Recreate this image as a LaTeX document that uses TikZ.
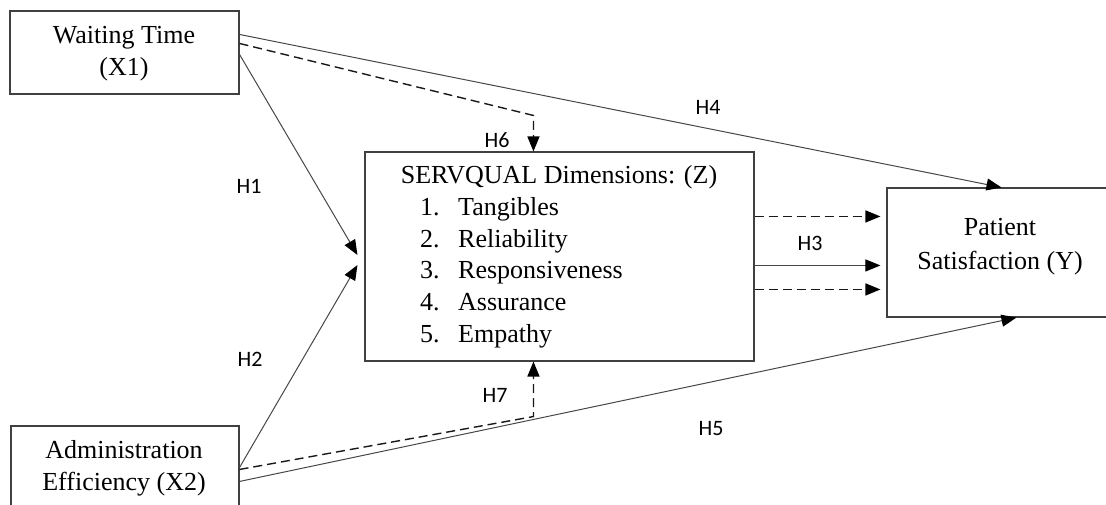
\documentclass[tikz,border=0pt]{standalone}
\usepackage{fontspec}
\setmainfont{Liberation Serif}
\newfontfamily\labfont{Carlito}
\usetikzlibrary{arrows.meta,calc}
\tikzset{
  boxnode/.style={draw=black!75, line width=1.1pt, fill=none, inner sep=0pt, rectangle},
  txt/.style={inner sep=0pt, anchor=base, text=black, font=\fontsize{26}{32}\selectfont},
  itemtxt/.style={inner sep=0pt, anchor=base west, text=black, font=\fontsize{26}{32}\selectfont},
  hlab/.style={inner sep=0pt, text=black, font=\labfont\fontsize{22}{26}\selectfont},
  link/.style={draw=black!72, line width=1pt, -{Triangle[length=15pt,width=12pt,color=black]}},
  dlink/.style={link, draw=black!90, line width=1.4pt, dash pattern=on 9pt off 5pt},
}
\begin{document}
\begin{tikzpicture}[x=1pt,y=-1pt]
\clip (0,0) rectangle (1106,504);
% boxes
\node[boxnode, minimum width=229pt, minimum height=83pt] (wt) at (124.5,52.5) {};
\node[boxnode, minimum width=228pt, minimum height=90pt] (ae) at (125,471) {};
\node[boxnode, minimum width=389pt, minimum height=209pt] (sq) at (559.5,256.5) {};
\node[boxnode, minimum width=226pt, minimum height=129pt] (ps) at (1000,252.5) {};
% texts
\node[txt] (wt1) at (124,43) {Waiting Time};
\node[txt] (wt2) at (124,75) {(X1)};
\node[txt] (ae1) at (124,458) {Administration};
\node[txt] (ae2) at (124,490) {Efficiency (X2)};
\node[txt] (sqt) at (559,183) {SERVQUAL Dimensions: (Z)};
\node[itemtxt] (sq1) at (420,215) {\makebox[38pt][l]{1.}Tangibles};
\node[itemtxt] (sq2) at (420,247) {\makebox[38pt][l]{2.}Reliability};
\node[itemtxt] (sq3) at (420,278) {\makebox[38pt][l]{3.}Responsiveness};
\node[itemtxt] (sq4) at (420,310) {\makebox[38pt][l]{4.}Assurance};
\node[itemtxt] (sq5) at (420,342) {\makebox[38pt][l]{5.}Empathy};
\node[txt] (ps1) at (1000,235) {Patient};
\node[txt] (ps2) at (1000,269) {Satisfaction (Y)};
% corner points of moderating paths
\coordinate (c6) at ($(sq.north west)+(169,-36)$);
\coordinate (c7) at ($(sq.south west)+(169,55)$);
% connectors
\draw[link] ($(wt.north east)+(0,24)$) -- ($(ps.north west)+(115,0)$);
\draw[link] ($(wt.north east)+(0,44)$) -- ($(sq.west)+(-7,-1.5)$);
\draw[dlink] ($(wt.north east)+(0,33)$) -- (c6) -- ($(sq.north west)+(169,0)$);
\draw[link] ($(ae.north east)+(0,42)$) -- ($(sq.west)+(-7,8.5)$);
\draw[dlink] ($(ae.north east)+(0,44)$) -- (c7) -- ($(sq.south west)+(169,0)$);
\draw[link] ($(ae.north east)+(0,56)$) -- ($(ps.south west)+(130,0)$);
\draw[dlink] ($(sq.north east)+(0,65)$) -- ($(ps.north west)+(-6,29)$);
\draw[link] ($(sq.north east)+(0,114)$) -- ($(ps.north west)+(-6,78)$);
\draw[dlink] ($(sq.north east)+(0,138)$) -- ($(ps.north west)+(-6,102)$);
% labels
\node[hlab] (h1) at (249,186) {H1};
\node[hlab] (h2) at (250,359) {H2};
\node[hlab] (h3) at (810,243) {H3};
\node[hlab] (h4) at (708,107) {H4};
\node[hlab] (h5) at (711,429) {H5};
\node[hlab] (h6) at (497,140) {H6};
\node[hlab] (h7) at (495,395) {H7};
\end{tikzpicture}
\end{document}
